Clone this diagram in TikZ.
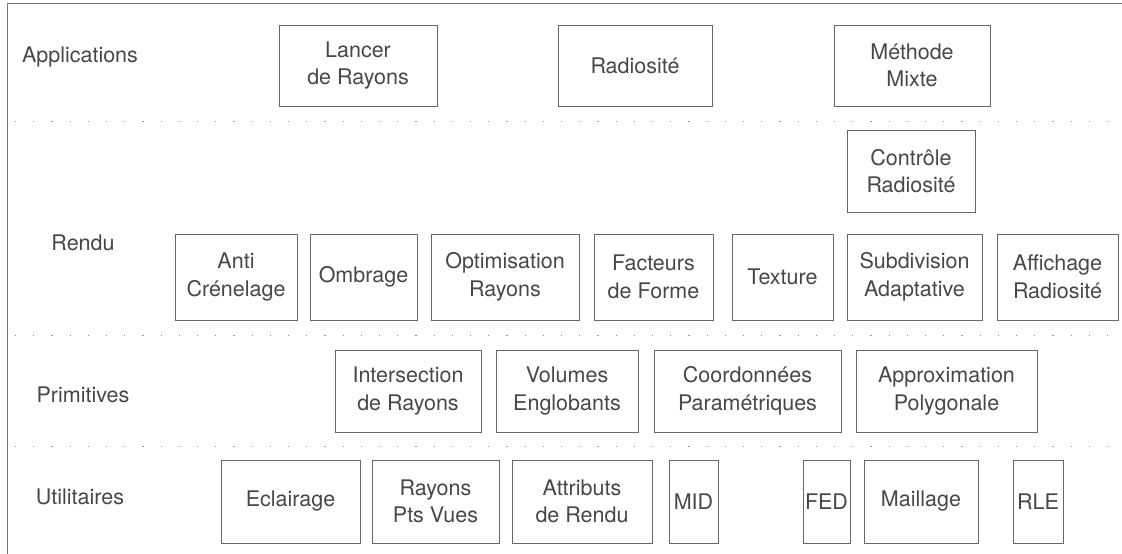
\documentclass[tikz,border=0pt]{standalone}
\usepackage{fontspec}
\setmainfont{TeX Gyre Heros}
\begin{document}
\begin{tikzpicture}[x=1pt,y=-1pt,
  bx/.style={draw=black!60, line width=0.8pt, align=center, inner sep=0pt,
    text=black!72, font=\fontsize{21.5}{27.5}\selectfont},
  lbl/.style={text=black!72, font=\fontsize{21.5}{27.5}\selectfont, inner sep=0pt},
  sep/.style={draw=black!40, line width=1pt, dash pattern=on 1.2pt off 17pt},
  frame/.style={draw=black!55, line width=0.8pt}]
\useasboundingbox (0,0) rectangle (1122,554);
% frame
\coordinate (tl) at (7,3);
\coordinate (tr) at (1122,3);
\coordinate (bl) at (7,554);
\draw[frame] (tr) -- (tl) -- (bl);
% separators
\coordinate (s1a) at (15,121); \coordinate (s1b) at (1110,121);
\coordinate (s2a) at (15,335); \coordinate (s2b) at (1110,335);
\coordinate (s3a) at (15,446); \coordinate (s3b) at (1110,446);
\draw[sep] (s1a) -- (s1b);
\draw[sep] (s2a) -- (s2b);
\draw[sep] (s3a) -- (s3b);
% row labels
\node[lbl] (lapp) at (80,57) {Applications};
\node[lbl] (lren) at (83,243) {Rendu};
\node[lbl] (lpri) at (83,395) {Primitives};
\node[lbl] (luti) at (80,497) {Utilitaires};
% Applications
\node[bx, minimum width=158pt, minimum height=81pt] (lancer) at (358,65.5) {Lancer\\de Rayons};
\node[bx, minimum width=154pt, minimum height=81pt] (radio) at (635,65.5) {Radiosité};
\node[bx, minimum width=156pt, minimum height=81pt] (mixte) at (912,65.5) {Méthode\\Mixte};
% Rendu
\node[bx, minimum width=128pt, minimum height=82pt] (ctrl) at (911,171) {Contrôle\\Radiosité};
\node[bx, minimum width=122pt, minimum height=86pt] (anti) at (236,277) {Anti\\Crénelage};
\node[bx, minimum width=107pt, minimum height=86pt] (ombr) at (363.5,277) {Ombrage};
\node[bx, minimum width=148pt, minimum height=86pt] (optim) at (505,277) {Optimisation\\Rayons};
\node[bx, minimum width=119pt, minimum height=86pt] (fact) at (653.5,277) {Facteurs\\de Forme};
\node[bx, minimum width=101pt, minimum height=86pt] (text) at (782.5,277) {Texture};
\node[bx, minimum width=135pt, minimum height=86pt] (subd) at (914.5,277) {Subdivision\\Adaptative};
\node[bx, minimum width=121pt, minimum height=86pt] (affi) at (1057.5,277) {Affichage\\Radiosité};
% Primitives
\node[bx, minimum width=146pt, minimum height=82pt] (inter) at (408,391) {Intersection\\de Rayons};
\node[bx, minimum width=142pt, minimum height=82pt] (volu) at (567,391) {Volumes\\Englobants};
\node[bx, minimum width=187pt, minimum height=82pt] (coord) at (747.5,391) {Coordonnées\\Paramétriques};
\node[bx, minimum width=181pt, minimum height=82pt] (appr) at (946.5,391) {Approximation\\Polygonale};
% Utilitaires
\node[bx, minimum width=139pt, minimum height=83pt] (ecl) at (290.5,501.5) {Eclairage};
\node[bx, minimum width=127pt, minimum height=83pt] (rpv) at (435.5,501.5) {Rayons\\Pts Vues};
\node[bx, minimum width=140pt, minimum height=83pt] (attr) at (582,501.5) {Attributs\\de Rendu};
\node[bx, minimum width=49pt, minimum height=83pt] (mid) at (693.5,501.5) {MID};
\node[bx, minimum width=47pt, minimum height=83pt] (fed) at (826.5,501.5) {FED};
\node[bx, minimum width=114pt, minimum height=83pt] (mail) at (921,501.5) {Maillage};
\node[bx, minimum width=50pt, minimum height=83pt] (rle) at (1038,501.5) {RLE};
\end{tikzpicture}
\end{document}
